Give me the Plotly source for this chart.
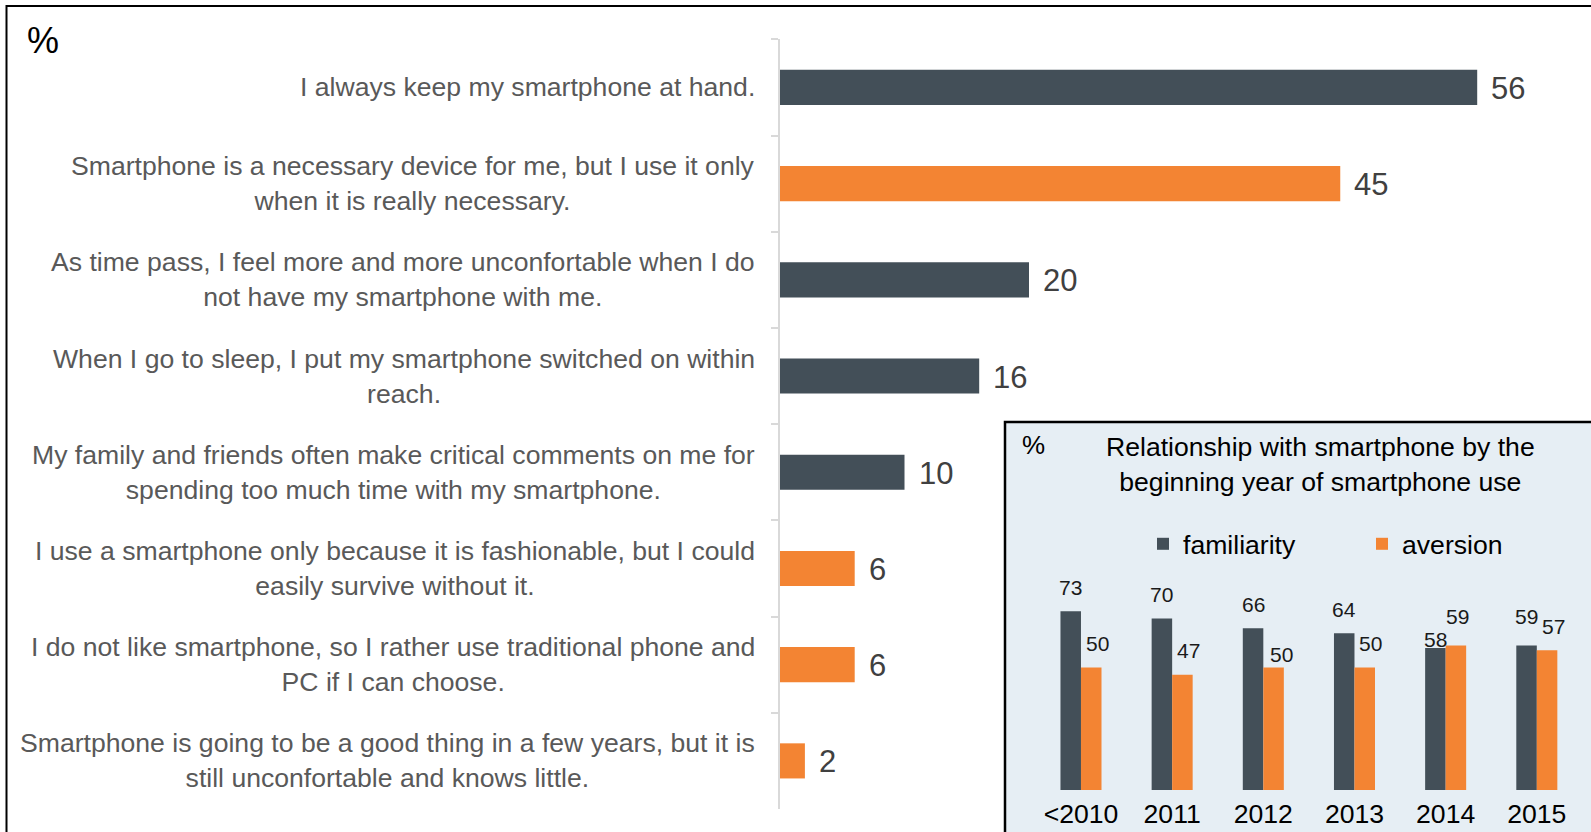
import plotly.graph_objects as go

W, H = 1591, 832
FONT = "Liberation Sans, Arial, sans-serif"

# Main chart: attitudes toward the smartphone (%)
statements = [
    "I always keep my smartphone at hand.",
    "Smartphone is a necessary device for me, but I use it only<br>when it is really necessary.",
    "As time pass, I feel more and more unconfortable when I do<br>not have my smartphone with me.",
    "When I go to sleep, I put my smartphone switched on within<br>reach.",
    "My family and friends often make critical comments on me for<br>spending too much time with my smartphone.",
    "I use a smartphone only because it is fashionable, but I could<br>easily survive without it.",
    "I do not like smartphone, so I rather use traditional phone and<br>PC if I can choose.",
    "Smartphone is going to be a good thing in a few years, but it is<br>still unconfortable and knows little.",
]
shares = [56, 45, 20, 16, 10, 6, 6, 2]
attitude = ["familiarity", "aversion", "familiarity", "familiarity",
            "familiarity", "aversion", "aversion", "aversion"]

# Inset: relationship by the beginning year of smartphone use (%)
years = ["<2010", "2011", "2012", "2013", "2014", "2015"]
familiarity = [73, 70, 66, 64, 58, 59]
aversion = [50, 47, 50, 50, 59, 57]

DARK = "#434f58"
ORANGE = "#f38433"
COLORS = {"familiarity": DARK, "aversion": ORANGE}


def fx(px):
    return px / W


def fy(py):
    return 1 - py / H


fig = go.Figure()

fig.add_trace(go.Bar(
    x=shares, y=statements, orientation="h", width=0.365,
    marker=dict(color=[COLORS[a] for a in attitude], line=dict(width=0)),
    showlegend=False, hoverinfo="x+y",
    xaxis="x", yaxis="y",
))

fig.add_trace(go.Bar(
    x=years, y=familiarity, name="familiarity",
    marker=dict(color=DARK, line=dict(width=0)),
    xaxis="x2", yaxis="y2",
))
fig.add_trace(go.Bar(
    x=years, y=aversion, name="aversion",
    marker=dict(color=ORANGE, line=dict(width=0)),
    xaxis="x2", yaxis="y2",
))

annotations = []

# statement labels, centred lines, right-aligned against the axis
for s in statements:
    annotations.append(dict(
        x=fx(757), xref="paper", y=s, yref="y",
        text=s, showarrow=False, xanchor="right", yanchor="middle",
        align="center", font=dict(family=FONT, size=26.6, color="#595959"),
    ))

# value labels at the bar ends
for s, v in zip(statements, shares):
    annotations.append(dict(
        x=v, xref="x", y=s, yref="y", text=str(v), showarrow=False,
        xanchor="left", yanchor="middle", xshift=12, yshift=-1,
        font=dict(family=FONT, size=31, color="#404040"),
    ))

annotations.append(dict(
    x=fx(25), y=fy(40), xref="paper", yref="paper", text="%",
    showarrow=False, xanchor="left", yanchor="middle",
    font=dict(family=FONT, size=36, color="black"),
))

# inset captions
annotations.append(dict(
    x=fx(1020), y=fy(445), xref="paper", yref="paper", text="%",
    showarrow=False, xanchor="left", yanchor="middle",
    font=dict(family=FONT, size=26, color="black"),
))
annotations.append(dict(
    x=fx(1320), y=fy(464), xref="paper", yref="paper",
    text="Relationship with smartphone by the<br>beginning year of smartphone use",
    showarrow=False, xanchor="center", yanchor="middle", align="center",
    font=dict(family=FONT, size=26.6, color="black"),
))

# inset value labels; a few are nudged to keep neighbours apart
half_bar = 10.25
nudge = {
    ("2012", "aversion"): (2, -11),
    ("2014", "familiarity"): (0, -16),
    ("2014", "aversion"): (-4, 5),
    ("2015", "familiarity"): (0, 5),
}
for series, values, dx in (("familiarity", familiarity, -half_bar),
                           ("aversion", aversion, half_bar + 6)):
    for i, (yr, v) in enumerate(zip(years, values)):
        ndx, ndy = nudge.get((yr, series), (0, 0))
        annotations.append(dict(
            x=i, y=v, xref="x2", yref="y2", text=str(v), showarrow=False,
            xanchor="center", yanchor="middle",
            xshift=dx + ndx, yshift=24 + ndy,
            font=dict(family=FONT, size=21, color="#1a1a1a"),
        ))

shapes = [
    # outer frame
    dict(type="rect", xref="paper", yref="paper",
         x0=fx(6.5), y0=fy(850), x1=fx(1610), y1=fy(6),
         line=dict(color="black", width=2), fillcolor="rgba(0,0,0,0)",
         layer="below"),
    # inset panel
    dict(type="rect", xref="paper", yref="paper",
         x0=fx(1005), y0=fy(850), x1=fx(1610), y1=fy(422),
         line=dict(color="black", width=2.5), fillcolor="#e6eef4",
         layer="below"),
]

fig.update_layout(
    width=W, height=H,
    margin=dict(l=0, r=0, t=0, b=0, autoexpand=False),
    paper_bgcolor="white", plot_bgcolor="rgba(0,0,0,0)",
    font=dict(family=FONT),
    barmode="group", bargap=0.55, bargroupgap=0,
    xaxis=dict(domain=[fx(780), fx(1527)], range=[0, 60], visible=False,
               fixedrange=True, automargin=False),
    yaxis=dict(domain=[fy(809), fy(39.3)], autorange="reversed",
               type="category", showticklabels=False, showgrid=False,
               zeroline=False, showline=True, linecolor="#d9d9d9",
               linewidth=2, ticks="outside", tickson="boundaries",
               ticklen=7, tickcolor="#d9d9d9", tickwidth=2,
               anchor="x", fixedrange=True, automargin=False),
    xaxis2=dict(domain=[fx(1035.4), fx(1582.4)], range=[-0.5, 5.5],
                type="category", anchor="y2", showgrid=False,
                showline=False, ticks="", ticklabelstandoff=5,
                tickfont=dict(family=FONT, size=26.6, color="black"),
                fixedrange=True, automargin=False),
    yaxis2=dict(domain=[fy(790), fy(545)], range=[0, 100], visible=False,
                anchor="x2", fixedrange=True, automargin=False),
    legend=dict(orientation="h", x=fx(1143), y=fy(544), xanchor="left",
                yanchor="middle", bgcolor="rgba(0,0,0,0)",
                font=dict(family=FONT, size=26.6, color="black"),
                entrywidth=174, entrywidthmode="pixels", itemwidth=30),
    annotations=annotations,
    shapes=shapes,
)

fig.write_html("out.html")
